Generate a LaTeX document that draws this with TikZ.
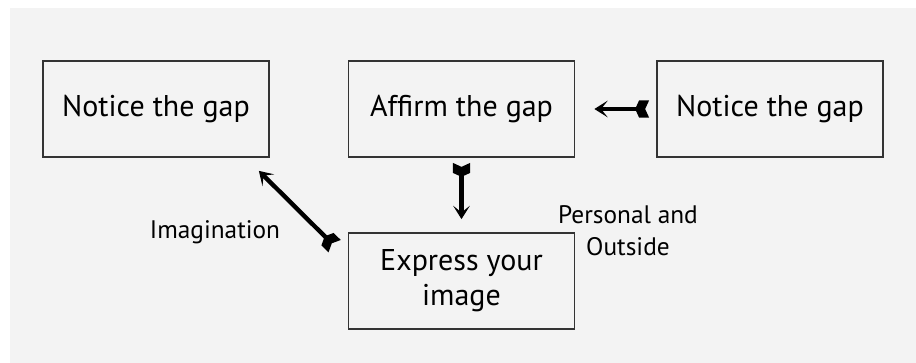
\documentclass[tikz,border=0pt]{standalone}
\usepackage{fontspec}
\setmainfont{PT Sans}
\usetikzlibrary{arrows.meta, positioning}
\definecolor{bggray}{HTML}{F3F3F3}
% notched tail of the arrows
\pgfdeclarearrow{
  name = Fletch,
  setup code = {
    \pgfarrowssettipend{0pt}
    \pgfarrowssetbackend{-10.5pt}
    \pgfarrowssetlineend{-8pt}
    \pgfarrowssetvisualbackend{-10.5pt}
    \pgfarrowsupperhullpoint{0pt}{6.5pt}
    \pgfarrowsupperhullpoint{-7.5pt}{6.5pt}
    \pgfarrowsupperhullpoint{-10.5pt}{0pt}
  },
  drawing code = {
    \pgfpathmoveto{\pgfqpoint{0pt}{6.5pt}}
    \pgfpathlineto{\pgfqpoint{-3pt}{0pt}}
    \pgfpathlineto{\pgfqpoint{0pt}{-6.5pt}}
    \pgfpathlineto{\pgfqpoint{-7.5pt}{-6.5pt}}
    \pgfpathlineto{\pgfqpoint{-10.5pt}{0pt}}
    \pgfpathlineto{\pgfqpoint{-7.5pt}{6.5pt}}
    \pgfpathclose
    \pgfusepathqfill
  }
}
\tikzset{
step box/.style = { rectangle, draw = black!80, line width = 1.3pt, fill = bggray, minimum width = 169.5pt, minimum height = 72pt, font = \fontsize{22.5}{26.5}\selectfont, align = center },
side label/.style = { font = \fontsize{19}{24}\selectfont, align = center },
flow arrow/.style = { line width = 3.3pt, {Fletch}-{Stealth[length = 10pt, width = 12.5pt, inset = 5pt]} },
}

\begin{document}
\begin{tikzpicture}[x = 0.75pt, y = -0.75pt]
    \useasboundingbox (0, 0) rectangle (916, 363);
    \fill[bggray] (10, 8) rectangle (916, 363);
    % the four boxes
    \node[step box] (notice left) at (156, 109) {Notice the gap};
    \node[step box] (affirm) at (461.5, 109) {Affirm the gap};
    \node[step box] (notice right) at (770, 109) {Notice the gap};
    \node[step box] (express) at (461.5, 281) {Express your\\image};
    % labels
    \node[side label] (imag label) at (215, 232) {Imagination};
    \node[side label] (pers label) at (628, 231) {Personal and\\Outside};
    % arrows
    \draw[flow arrow, shorten <= 5.25pt, shorten >= 14.25pt] (notice right.west) -- (affirm.east);
    \draw[flow arrow, shorten <= 3.75pt, shorten >= 9.75pt] (affirm.south) -- (express.north);
    \draw[flow arrow] ([shift = {(-13, 14)}]express.north west) -- ([shift = {(-11, 13)}]notice left.south east);
\end{tikzpicture}
\end{document}
